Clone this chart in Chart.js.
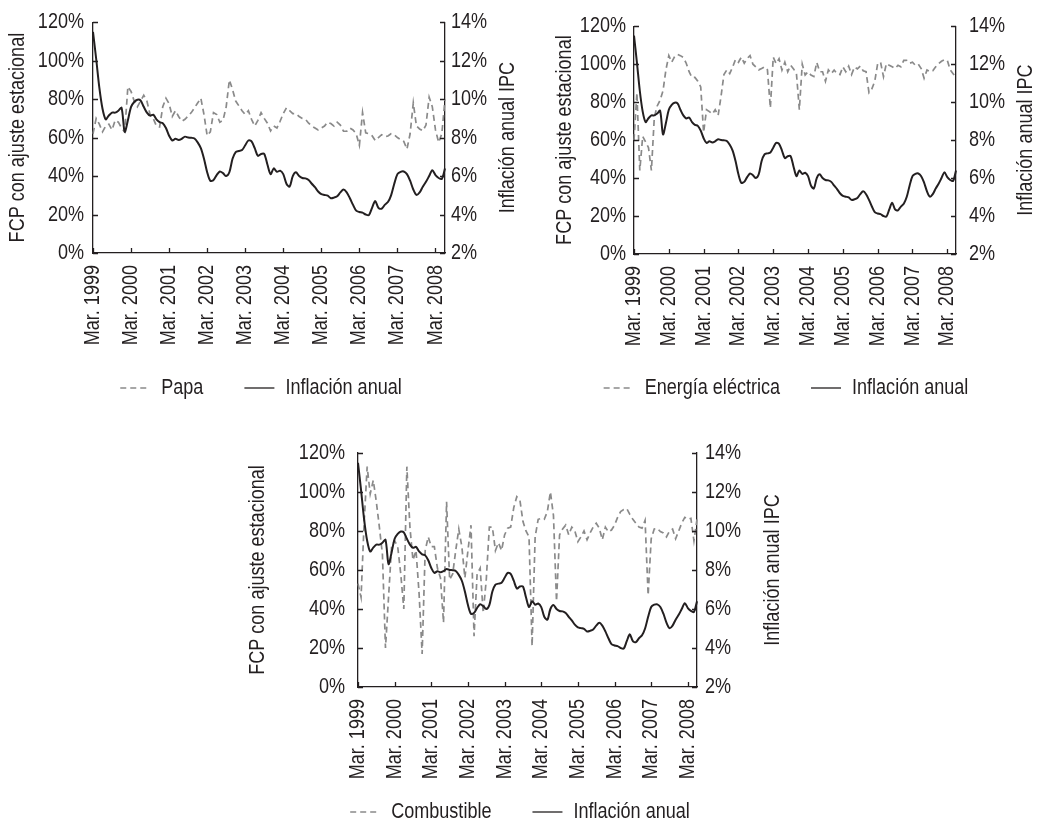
<!DOCTYPE html>
<html>
<head>
<meta charset="utf-8">
<script src="https://cdn.jsdelivr.net/npm/chart.js@4.4.0/dist/chart.umd.min.js"></script>
<style>
  html, body { margin: 0; padding: 0; background: #fff; overflow: hidden; width: 1037px; height: 825px; }
  canvas { position: absolute; }
</style>
</head>
<body>
<canvas id="c1" width="522" height="409" style="left:0px;top:0px"></canvas>
<canvas id="c2" width="532" height="409" style="left:520px;top:0px"></canvas>
<canvas id="c3" width="580" height="413" style="left:230px;top:420px"></canvas>
<script>
// months Mar. 1999 .. Jun. 2008 (category axis, only March is labelled)
const mesesNombre = ['Ene.', 'Feb.', 'Mar.', 'Abr.', 'May.', 'Jun.', 'Jul.', 'Ago.', 'Sep.', 'Oct.', 'Nov.', 'Dic.'];
const meses = [];
for (let k = 2; k < 2 + 112; k++) {
  meses.push(mesesNombre[k % 12] + ' ' + (1999 + Math.floor(k / 12)));
}

// inflacion anual IPC (%), right axis
const inflacion = [13.5, 12.1, 10.6, 9.5, 8.95, 9.15, 9.3, 9.3, 9.4, 9.55,
  8.3, 8.9, 9.6, 9.85, 9.97, 9.93, 9.6, 9.3, 9.14, 9.19,
  8.95, 8.8, 8.75, 8.5, 8.1, 7.85, 7.94, 7.88, 7.94, 8.05,
  8.0, 7.99, 7.95, 7.75, 7.45, 6.9, 6.2, 5.75, 5.8, 6.05,
  6.24, 6.15, 6.0, 6.2, 6.9, 7.25, 7.3, 7.35, 7.6, 7.85,
  7.8, 7.45, 7.05, 7.15, 7.15, 6.6, 6.1, 6.4, 6.22, 6.28,
  6.1, 5.6, 5.45, 6.0, 6.2, 6.0, 5.9, 5.88, 5.8, 5.6,
  5.42, 5.2, 5.06, 5.02, 4.98, 4.85, 4.88, 4.95, 5.15, 5.3,
  5.15, 4.85, 4.5, 4.2, 4.13, 4.1, 4.0, 3.97, 4.35, 4.7,
  4.35, 4.3, 4.5, 4.65, 5.0, 5.6, 6.1, 6.22, 6.24, 6.1,
  5.76, 5.3, 5.02, 5.15, 5.45, 5.7, 6.0, 6.3, 6.05, 5.9, 5.85, 6.4];

// FCP con ajuste estacional (%), left axis
const papa = [62, 70, 67, 63, 66, 67, 64, 69, 68, 65,
  63, 86.5, 84, 79, 76, 79, 82, 79, 72, 70,
  66, 65.5, 76, 80.5, 77.6, 71, 74, 71, 68.5, 69.5,
  71.2, 73, 75.5, 78, 80.5, 72, 61, 63, 73, 72,
  68, 69, 76, 90, 85, 79, 76.5, 74, 72, 74,
  69.5, 66, 69, 73, 70, 67.5, 63.5, 66, 65, 68.5,
  72.5, 75.5, 74, 72.5, 72.5, 71, 70, 69.5, 67.5, 66,
  65, 64, 65, 66, 68, 67.3, 66, 68, 66.5, 63.3,
  63.3, 65, 64, 62, 56, 73, 62.5, 62, 61, 58.5,
  60, 61.5, 60.5, 60.8, 62, 61.5, 60, 59, 58, 54,
  62, 78, 66, 64.5, 63.5, 66.5, 81, 76, 64, 57.5, 62, 80];

const energia = [60, 85, 44, 62, 59, 56, 44, 72, 78, 81,
  86, 97, 104.5, 101, 104, 105.2, 104.5, 103.5, 100.5, 96,
  93, 93, 91, 88, 64, 76, 75, 73.7, 76, 73,
  83, 94.5, 97, 95, 98.5, 102.5, 101, 103.7, 100.5, 103,
  104.5, 100, 98.5, 97, 97.7, 98.6, 97, 77, 103.7, 100.3,
  102.9, 96.9, 101, 96, 99.4, 97.5, 95, 76, 100, 94.3,
  96, 94.3, 93.5, 101, 96, 96, 91, 97, 95, 96.9,
  95, 94.5, 98.6, 96, 99, 94.5, 98.5, 97.5, 99, 96.5,
  96, 85, 87, 91, 100.3, 101, 93.4, 100.3, 99.4, 98.6,
  97.7, 99.4, 98.6, 102, 102, 100.5, 101, 99.4, 100, 97.7,
  92.6, 96.9, 96, 96.5, 98.6, 100.3, 101.5, 102.3, 102, 97, 95, 93];

const combustible = [53, 46, 84, 113, 99, 106, 95, 82, 68, 20,
  46, 72, 75, 72, 58, 40, 113, 82, 65, 70,
  48, 17, 70, 77, 72, 72, 61, 56, 33, 95,
  55, 58, 70, 81, 72, 56, 70, 83, 26, 58,
  61, 38, 55, 82, 82, 70, 74, 70, 78, 81.5,
  82, 92, 97.6, 96, 85, 80, 77, 21, 77, 86,
  86.5, 86, 90, 100, 88, 44, 78, 81, 83, 78,
  82, 80, 74.5, 77, 80, 75.5, 79, 82, 84, 81.5,
  75.5, 82, 79.5, 80.5, 83, 87, 90, 91, 91.5, 88.5,
  86, 84, 82, 81.5, 85.5, 47, 76, 81, 81.4, 79.7,
  79, 77, 80, 81, 76, 80, 84, 87, 86, 86.5, 75, 86];

const NEGRO = '#231f20';
const GRIS = '#8a8a8a';
const FAMILIA = "'Liberation Sans', Arial, sans-serif";
const FUENTE = { family: FAMILIA, size: 22 };

// the original type is a condensed sans: squeeze the text horizontally
const ANCHO = 0.82;
function estrechar(ctx) {
  const fill = ctx.fillText;
  const measure = ctx.measureText;
  ctx.fillText = function (t, x, y) {
    this.save();
    this.translate(x, y);
    this.scale(ANCHO, 1);
    fill.call(this, t, 0, 0);
    this.restore();
  };
  ctx.measureText = function (t) {
    const m = measure.call(this, t);
    return {
      width: m.width * ANCHO,
      actualBoundingBoxAscent: m.actualBoundingBoxAscent,
      actualBoundingBoxDescent: m.actualBoundingBoxDescent,
      actualBoundingBoxLeft: m.actualBoundingBoxLeft * ANCHO,
      actualBoundingBoxRight: m.actualBoundingBoxRight * ANCHO
    };
  };
  return ctx;
}

// short tick marks pointing into the plot
const inwardTicks = {
  id: 'inwardTicks',
  afterDraw(chart) {
    const ctx = chart.ctx;
    const a = chart.chartArea;
    const len = 5;
    ctx.save();
    ctx.strokeStyle = NEGRO;
    ctx.lineWidth = 1.3;
    ctx.beginPath();
    ['y', 'y1'].forEach(id => {
      const s = chart.scales[id];
      const x0 = id === 'y' ? a.left : a.right;
      const d = id === 'y' ? len : -len;
      s.ticks.forEach((t, i) => {
        const py = Math.round(s.getPixelForTick(i)) + 0.5;
        ctx.moveTo(x0, py);
        ctx.lineTo(x0 + d, py);
      });
    });
    const sx = chart.scales.x;
    sx.ticks.forEach((t, i) => {
      const px = Math.round(sx.getPixelForTick(i)) + 0.5;
      ctx.moveTo(px, a.bottom);
      ctx.lineTo(px, a.bottom - len);
    });
    ctx.stroke();
    ctx.restore();
  }
};

// right axis title, reading bottom to top like the left one
const rightTitle = {
  id: 'rightTitle',
  afterDraw(chart, args, opts) {
    const s = chart.scales.y1;
    const a = chart.chartArea;
    const ctx = chart.ctx;
    ctx.save();
    ctx.translate(s.right - opts.offset, (a.top + a.bottom) / 2);
    ctx.rotate(-Math.PI / 2);
    ctx.textAlign = 'center';
    ctx.textBaseline = 'middle';
    ctx.font = FUENTE.size + 'px ' + FAMILIA;
    ctx.fillStyle = NEGRO;
    ctx.fillText(opts.text, 0, 0);
    ctx.restore();
  }
};

function panel(id, nombre, valores, lay) {
  const ctx = estrechar(document.getElementById(id).getContext('2d'));
  new Chart(ctx, {
    type: 'line',
    data: {
      labels: meses,
      datasets: [
        { label: nombre, data: valores, yAxisID: 'y', borderColor: GRIS, backgroundColor: GRIS,
          borderWidth: 1.7, borderDash: [6, 4], pointRadius: 0, order: 1 },
        { label: 'Inflación anual', data: inflacion, yAxisID: 'y1', borderColor: NEGRO, backgroundColor: NEGRO,
          borderWidth: 2, tension: 0.3, pointRadius: 0, order: 0 }
      ]
    },
    options: {
      responsive: false,
      animation: false,
      layout: { padding: { left: 0, right: 0, top: lay.top, bottom: 0 } },
      plugins: {
        legend: {
          position: 'bottom',
          labels: {
            usePointStyle: true, pointStyleWidth: 30, padding: lay.legendPad,
            color: NEGRO, font: FUENTE,
            sort: (a, b) => a.datasetIndex - b.datasetIndex,
            generateLabels: chart => {
              const items = Chart.defaults.plugins.legend.labels.generateLabels(chart);
              items.forEach(it => {
                const ds = chart.data.datasets[it.datasetIndex];
                it.pointStyle = 'line';
                it.lineDash = ds.borderDash || [];
                it.strokeStyle = ds.borderColor;
                it.lineWidth = 1.3;
              });
              return items;
            }
          }
        },
        tooltip: { enabled: false },
        rightTitle: { text: 'Inflación anual IPC', offset: lay.y1Title }
      },
      scales: {
        x: {
          type: 'category',
          offset: false,
          grid: { display: false, drawTicks: false },
          border: { display: true, color: NEGRO, width: 1.3 },
          ticks: { autoSkip: false, minRotation: 90, maxRotation: 90, padding: lay.xPad, color: NEGRO, font: FUENTE },
          afterBuildTicks: s => { s.ticks = s.ticks.filter(t => t.value % 12 === 0); },
          afterFit: s => {
            s.height = lay.xH;
            s._computeLabelArea = () => null; // let the long rotated labels run past the box
          }
        },
        y: {
          position: 'left', min: 0, max: 120,
          grid: { display: false, drawTicks: false },
          border: { display: true, color: NEGRO, width: 1.3 },
          ticks: { stepSize: 20, padding: lay.yPad, color: NEGRO, font: FUENTE, callback: v => v + '%' },
          title: { display: true, text: 'FCP con ajuste estacional', color: NEGRO, font: FUENTE,
                   padding: { top: lay.yTitle, bottom: 0 } },
          afterFit: s => { s.width = lay.yW; }
        },
        y1: {
          position: 'right', min: 2, max: 14,
          grid: { display: false, drawTicks: false },
          border: { display: true, color: NEGRO, width: 1.3 },
          ticks: { stepSize: 2, padding: lay.y1Pad, color: NEGRO, font: FUENTE, callback: v => v + '%' },
          afterFit: s => { s.width = lay.y1W; }
        }
      }
    },
    plugins: [inwardTicks, rightTitle]
  });
}

panel('c1', 'Papa', papa,
  { top: 20, yW: 93, y1W: 77, xH: 83, xPad: 12, yPad: 9, y1Pad: 6, yTitle: 5, y1Title: 14, legendPad: 41 });
panel('c2', 'Energía eléctrica', energia,
  { top: 20, yW: 114, y1W: 96, xH: 92, xPad: 12, yPad: 8, y1Pad: 13, yTitle: 32, y1Title: 26, legendPad: 31 });
panel('c3', 'Combustible', combustible,
  { top: 33, yW: 128, y1W: 113, xH: 73, xPad: 12, yPad: 13, y1Pad: 8, yTitle: 15, y1Title: 37, legendPad: 41 });
</script>
</body>
</html>
